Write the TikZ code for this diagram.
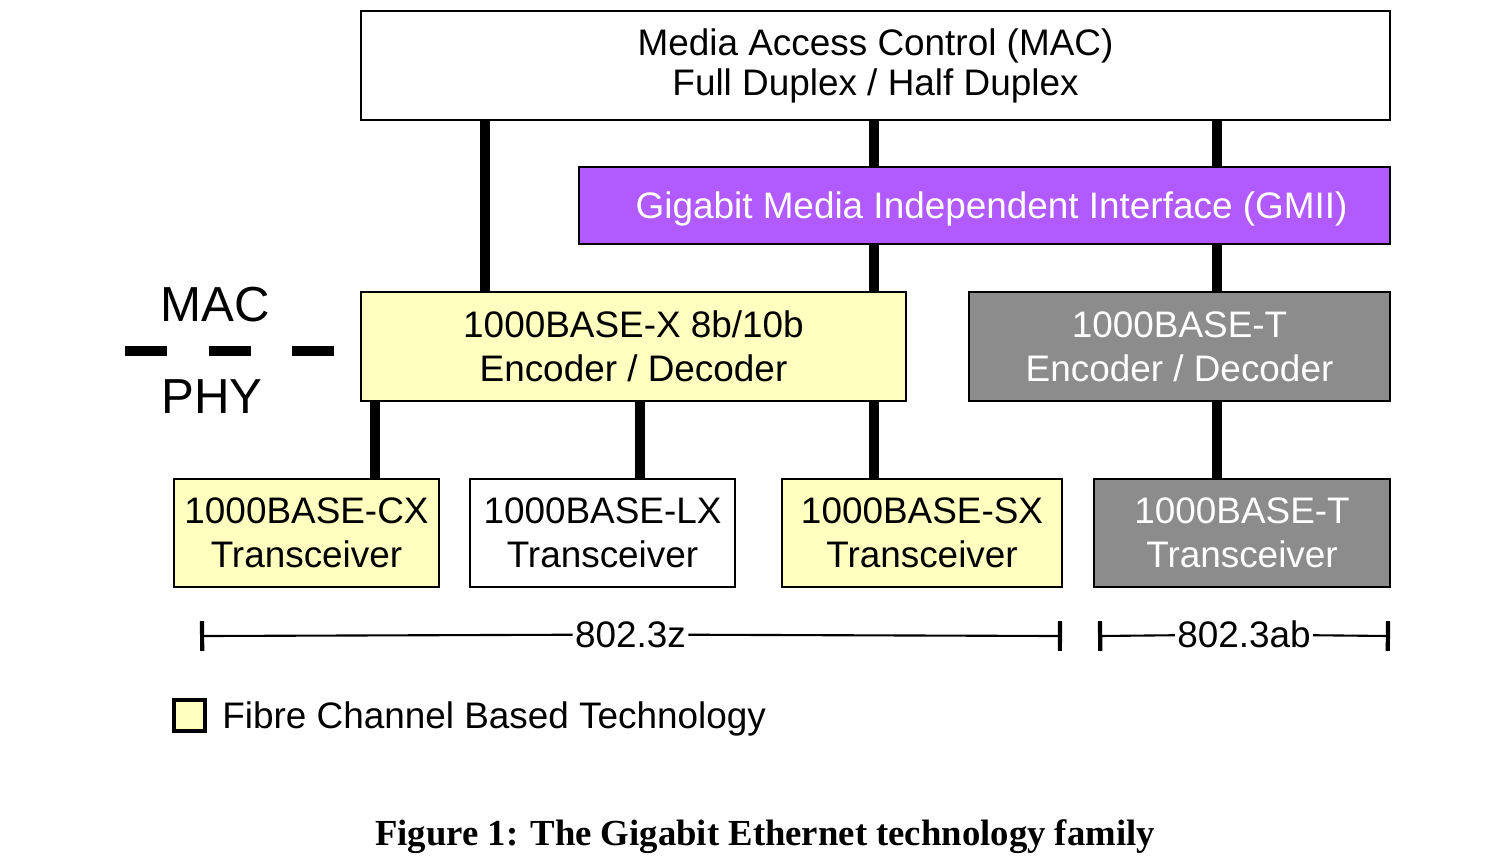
\documentclass[tikz,border=0pt]{standalone}
\usepackage{fontspec}
\setmainfont{Liberation Sans}
\newfontfamily\capfont{Liberation Serif}
\usepackage{xcolor}
\usepackage{tikz}
\usetikzlibrary{arrows.meta, positioning}
\definecolor{fcyellow}{RGB}{255,255,192}
\definecolor{gmiipurple}{RGB}{176,90,255}
\definecolor{tgray}{RGB}{140,140,140}
\tikzset{
  font=\fontsize{10.5pt}{12.4pt}\selectfont,   % Arial-like text everywhere
  layer/.style     = {rectangle, draw, line width=0.8pt, inner sep=0pt,
                      align=center},
  fibre/.style     = {layer, fill=fcyellow},
  plain/.style     = {layer, fill=white},
  copper/.style    = {layer, fill=tgray, text=white},
  iface/.style     = {layer, fill=gmiipurple, text=white},
  bus/.style       = {line width=2.6pt},
  span/.style      = {line width=0.6pt},
  spanl/.style     = {span, {Bar[width=8.5pt,line width=1.2pt]}-},
  spanr/.style     = {span, -{Bar[width=8.5pt,line width=1.2pt]}},
  divider/.style   = {line width=2.9pt, dash pattern=on 0.42cm off 0.415cm}
}
\begin{document}
\begin{tikzpicture}
  \useasboundingbox (0,0) rectangle (14.85,-8.62);
  % upper layers
  \node[plain, minimum width=10.29cm, minimum height=1.09cm] (mac) at (8.755,-0.655)
    {\raisebox{-1pt}{Media Access Control (MAC)}\\Full Duplex / Half Duplex};
  \node[iface, minimum width=8.11cm, minimum height=0.77cm, text depth=0pt] (gmii) at (9.845,-2.055)
    {\hspace*{0.14cm}Gigabit Media Independent Interface (GMII)};
  \node[fibre, minimum width=5.45cm, minimum height=1.09cm] (encx) at (6.335,-3.465)
    {1000BASE-X 8b/10b\\Encoder / Decoder};
  \node[copper, minimum width=4.21cm, minimum height=1.09cm] (enct) at (11.795,-3.465)
    {1000BASE-T\\Encoder / Decoder};
  % transceivers
  \node[fibre, minimum width=2.65cm, minimum height=1.08cm] (cx) at (3.065,-5.33)
    {1000BASE-CX\\Transceiver};
  \node[plain, minimum width=2.65cm, minimum height=1.08cm] (lx) at (6.025,-5.33)
    {1000BASE-LX\\Transceiver};
  \node[fibre, minimum width=2.80cm, minimum height=1.08cm] (sx) at (9.22,-5.33)
    {1000BASE-SX\\Transceiver};
  \node[copper, minimum width=2.96cm, minimum height=1.08cm] (tt) at (12.42,-5.33)
    {1000BASE-T\\Transceiver};
  % links
  \draw[bus] (4.85,0 |- mac.south) -- (4.85,0 |- encx.north);
  \draw[bus] (8.74,0 |- mac.south) -- (8.74,0 |- gmii.north);
  \draw[bus] (8.74,0 |- gmii.south) -- (8.74,0 |- encx.north);
  \draw[bus] (8.74,0 |- encx.south) -- (8.74,0 |- sx.north);
  \draw[bus] (12.17,0 |- mac.south) -- (12.17,0 |- gmii.north);
  \draw[bus] (12.17,0 |- gmii.south) -- (12.17,0 |- enct.north);
  \draw[bus] (12.17,0 |- enct.south) -- (12.17,0 |- tt.north);
  \draw[bus] (3.75,0 |- encx.south) -- (3.75,0 |- cx.north);
  \draw[bus] (6.40,0 |- encx.south) -- (6.40,0 |- lx.north);
  % MAC / PHY boundary
  \node[font=\fontsize{14pt}{16pt}\selectfont] (maclbl) at (2.15,-3.05) {MAC};
  \node[font=\fontsize{14pt}{16pt}\selectfont] (phylbl) at (2.12,-3.97) {PHY};
  \draw[divider] (1.25,-3.51) -- (3.34,-3.51);
  % standards
  \coordinate (zl) at (2.00,-6.36);
  \coordinate (zr) at (10.62,-6.36);
  \node[inner sep=0.5pt] (z) at (6.305,-6.345) {802.3z};
  \draw[spanl] (zl) -- (z);
  \draw[spanr] (z) -- (zr);
  \coordinate (abl) at (10.98,-6.36);
  \coordinate (abr) at (13.90,-6.36);
  \node[inner sep=0.5pt] (ab) at (12.44,-6.345) {802.3ab};
  \draw[spanl] (abl) -- (ab);
  \draw[spanr] (ab) -- (abr);
  % legend
  \node[fibre, minimum size=0.31cm, line width=1.1pt] (legbox) at (1.895,-7.155) {};
  \node[right=0.3mm of legbox, yshift=-1pt] (legtxt) {Fibre Channel Based Technology};
  % caption
  \node[font=\capfont\bfseries\fontsize{10.45pt}{13pt}\selectfont] (cap) at (7.65,-8.37)
    {Figure 1: The Gigabit Ethernet technology family};
\end{tikzpicture}
\end{document}
